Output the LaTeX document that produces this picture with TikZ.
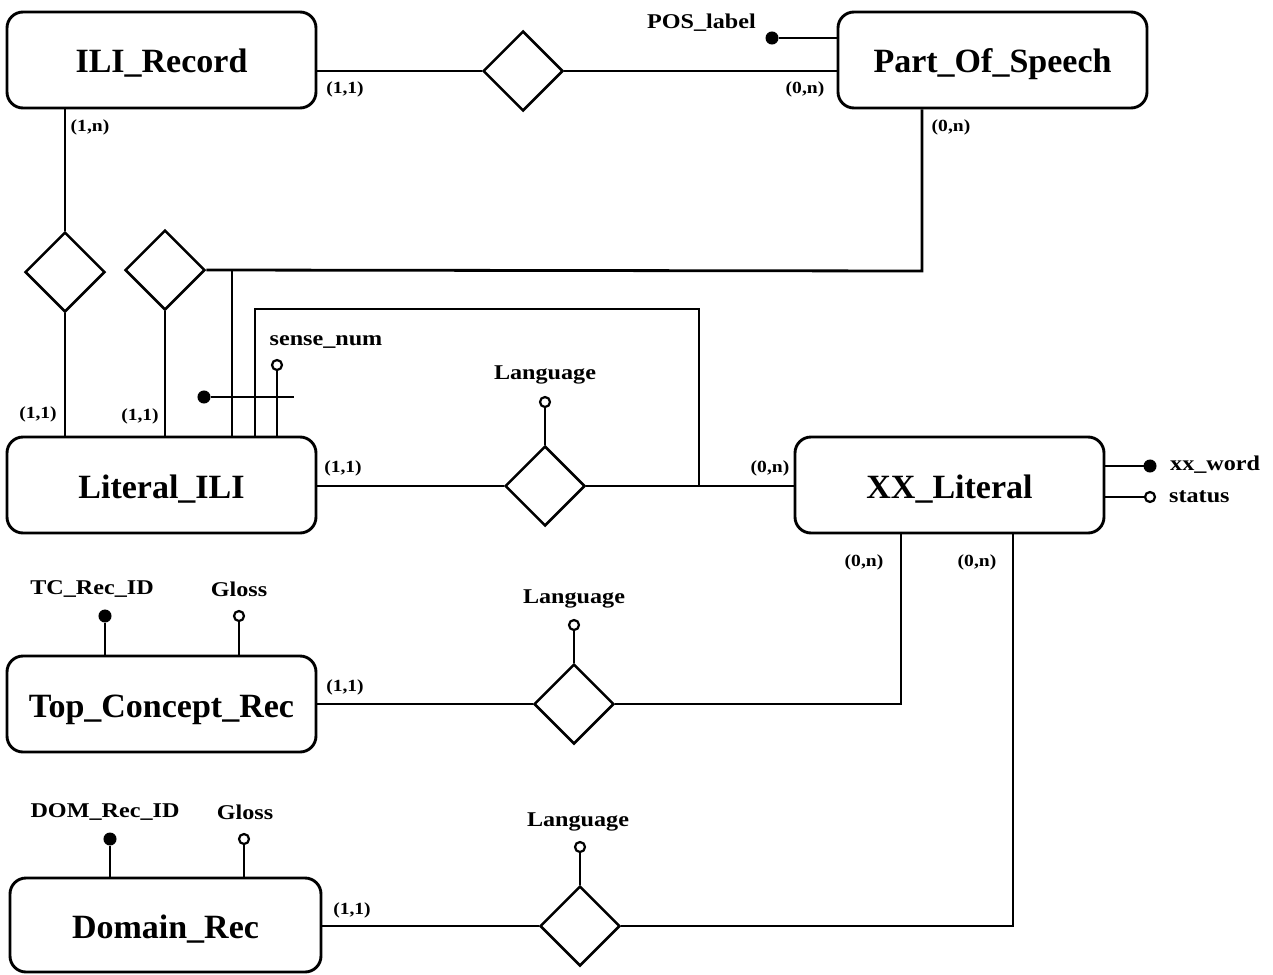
\documentclass[tikz,border=0pt]{standalone}
\usepackage{fontspec}
\setmainfont{Liberation Serif}
\newfontfamily\widefont[FakeStretch=1.15]{Liberation Serif}
\usetikzlibrary{shapes.geometric}
\begin{document}
\begin{tikzpicture}[x=1pt,y=-1pt,
 entity/.style={draw,line width=2.9pt,rounded corners=16pt,minimum width=309pt,minimum height=96pt,font=\fontsize{34}{38}\selectfont\bfseries,inner sep=0pt,text height=26pt,text depth=0pt},
 rel/.style={draw,diamond,line width=2.5pt,minimum width=80pt,minimum height=80pt,inner sep=0pt},
 ln/.style={line width=2.8pt},
 key/.style={circle,fill=black,draw,line width=1pt,minimum size=12pt,inner sep=0pt},
 att/.style={circle,draw,line width=2.2pt,fill=white,minimum size=10pt,inner sep=0pt},
 card/.style={font=\widefont\fontsize{17}{19}\selectfont\bfseries,inner sep=0pt},
 lab/.style={font=\widefont\fontsize{21}{24}\selectfont\bfseries,inner sep=0pt}]
\useasboundingbox (0,0) rectangle (1273,974);
% entities
\node[entity] (ili) at (161.5,60) {ILI\_Record};
\node[entity] (pos) at (992.5,60) {Part\_Of\_Speech};
\node[entity] (lit) at (161.5,485) {Literal\_ILI};
\node[entity] (xx) at (949.5,485) {XX\_Literal};
\node[entity] (tc) at (161.5,704) {Top\_Concept\_Rec};
\node[entity,minimum width=311pt,minimum height=94pt] (dom) at (165.5,925) {Domain\_Rec};
% relationships
\node[rel] (r1) at (523,71) {};
\node[rel] (r2) at (65,272) {};
\node[rel] (r3) at (165,270) {};
\node[rel] (r4) at (545,486) {};
\node[rel] (r5) at (574,704) {};
\node[rel] (r6) at (580,926) {};
% ILI_Record -- r1 -- Part_Of_Speech
\draw[ln] (ili.east |- r1.west) -- (r1.west);
\draw[ln] (r1.east) -- (pos.west |- r1.east);
\node[key] (posk) at (772,38) {};
\draw[ln] (posk) -- (pos.west |- posk);
\node[lab,anchor=east] (posl) at (756,23) {POS\_label};
\node[card] at (345,89) {(1,1)};
\node[card] at (805,89) {(0,n)};
% ILI_Record -- r2 -- Literal_ILI
\draw[ln] (ili.south -| r2.north) -- (r2.north);
\draw[ln] (r2.south) -- (lit.north -| r2.south);
\node[card] at (90,127) {(1,n)};
\node[card] at (38,414) {(1,1)};
% r3 -- Literal_ILI, Part_Of_Speech
\draw[ln] (r3.south) -- (lit.north -| r3.south);
\coordinate (c1) at (922,271);
\draw[ln] (r3.east) -- (c1) -- (c1 |- pos.south);
\coordinate (c2) at (232,271);
\draw[ln] (c2) -- (c2 |- lit.north);
\node[card] at (140,416) {(1,1)};
\node[card] at (951,127) {(0,n)};
% Literal_ILI -- XX junction
\coordinate (c3) at (255,309);
\coordinate (c4) at (699,309);
\draw[ln] (c3 |- lit.north) -- (c3) -- (c4) -- (c4 |- r4.east);
% sense_num and key
\node[att] (sn) at (277,365) {};
\draw[ln] (sn) -- (sn |- lit.north);
\node[lab] at (326,342) {sense\_num};
\node[key] (k1) at (204,397) {};
\coordinate (k2) at (294,397);
\draw[ln] (k1) -- (k2);
% Literal_ILI -- r4 -- XX_Literal
\draw[ln] (lit.east |- r4.west) -- (r4.west);
\draw[ln] (r4.east) -- (xx.west |- r4.east);
\node[att] (la1) at (545,402) {};
\draw[ln] (la1) -- (r4.north);
\node[lab] at (545,375) {Language};
\node[card] at (343,468) {(1,1)};
\node[card] at (770,468) {(0,n)};
% XX_Literal attributes
\node[key] (xw) at (1150,466) {};
\draw[ln] (xw) -- (xx.east |- xw);
\node[att] (st) at (1150,497) {};
\draw[ln] (st) -- (xx.east |- st);
\node[lab,anchor=west] at (1170,465) {xx\_word};
\node[lab,anchor=west] at (1169,497) {status};
% XX_Literal -- r5, r6
\coordinate (c5) at (901,704);
\draw[ln] (c5 |- xx.south) -- (c5) -- (r5.east);
\coordinate (c6) at (1013,926);
\draw[ln] (c6 |- xx.south) -- (c6) -- (r6.east);
\node[card] at (864,562) {(0,n)};
\node[card] at (977,562) {(0,n)};
% Top_Concept_Rec -- r5
\draw[ln] (tc.east |- r5.west) -- (r5.west);
\node[card] at (345,687) {(1,1)};
\node[att] (la2) at (574,625) {};
\draw[ln] (la2) -- (r5.north);
\node[lab] at (574,599) {Language};
\node[key] (tck) at (105,616) {};
\draw[ln] (tck) -- (tck |- tc.north);
\node[lab] at (92,589) {TC\_Rec\_ID};
\node[att] (tcg) at (239,616) {};
\draw[ln] (tcg) -- (tcg |- tc.north);
\node[lab] at (239,589) {Gloss};
% Domain_Rec -- r6
\draw[ln] (dom.east |- r6.west) -- (r6.west);
\node[card] at (352,910) {(1,1)};
\node[att] (la3) at (580,847) {};
\draw[ln] (la3) -- (r6.north);
\node[lab] at (578,822) {Language};
\node[key] (dk) at (110,839) {};
\draw[ln] (dk) -- (dk |- dom.north);
\node[lab] at (105,812) {DOM\_Rec\_ID};
\node[att] (dg) at (244,839) {};
\draw[ln] (dg) -- (dg |- dom.north);
\node[lab] at (245,812) {Gloss};
\end{tikzpicture}
\end{document}
